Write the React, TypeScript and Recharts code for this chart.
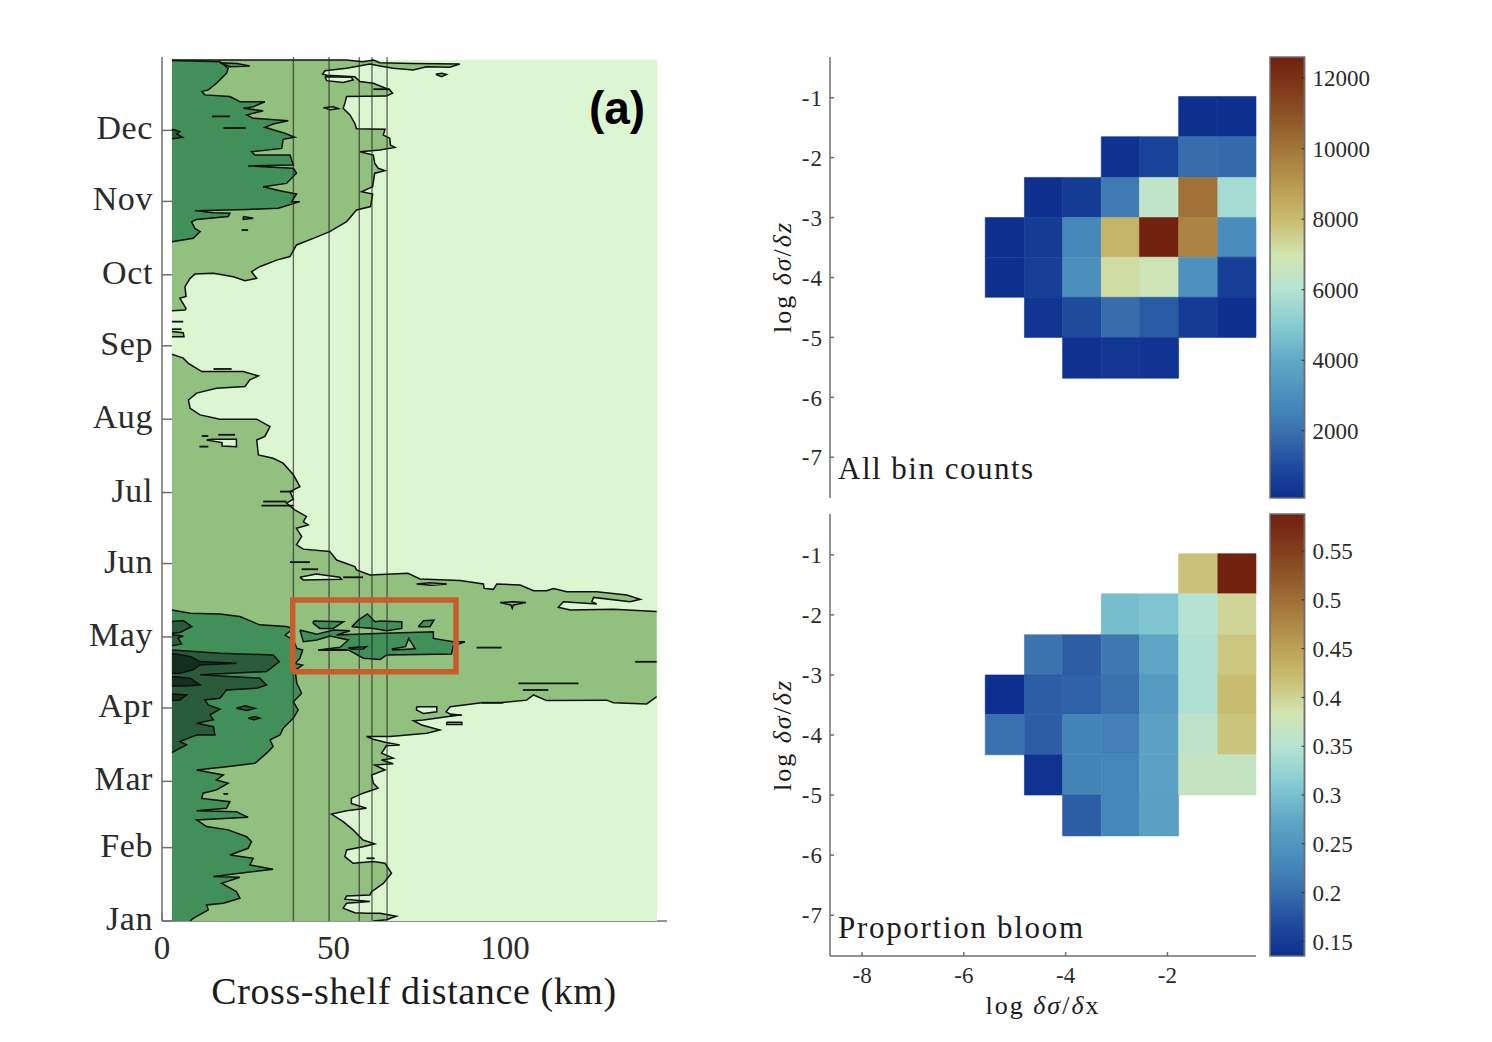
import { ScatterChart, Scatter, XAxis, YAxis, ReferenceArea } from 'recharts';

const SERIF = '"Liberation Serif", serif';
const AXIS_GREY = '#6f6f6f';
const TEXT = '#2b2b2b';

// ---- left panel: contours, x = km, y = day of year ----
const MONTHS = ['Jan', 'Feb', 'Mar', 'Apr', 'May', 'Jun', 'Jul', 'Aug', 'Sep', 'Oct', 'Nov', 'Dec'];
const MONTH_DAYS = [0, 31, 59, 90, 120, 151, 181, 212, 243, 273, 304, 334];
const KM_TICKS = [0, 50, 100];
const TRANSECTS = [38.3, 48.7, 57.5, 61.2, 65.6];
const BOX: number[][] = [[38.1, 105.3], [38.1, 135.6], [85.7, 135.6], [85.7, 105.3], [38.1, 105.3]];

const LIGHT = '#ddf6d2';
const MEDIUM = '#92c07e';
const DARK = '#41905a';
const DARKER = '#2a5b3a';
const DARKEST = '#14301c';

type Poly = number[][];

const BACKGROUND: Poly = [[2.9, 0], [2.9, 363.7], [144.3, 363.7], [144.3, 0]];

const MEDIUM_UPPER: Poly = [
  [2.9, 363.7], [41.2, 363.7], [53.8, 363.7], [58.6, 363], [61.6, 363.7], [63.5, 362.6], [73.2, 362.3], [86.8, 362],
  [83.9, 360.7], [77.1, 360.9], [73.2, 359.5], [67.4, 360.2], [63.5, 361.2], [60.6, 362], [53.8, 360.2], [47.5, 359.2],
  [46.8, 357.8], [48, 357.3], [56.2, 356.7], [57.7, 354.6], [61.6, 353.9], [66.4, 351.1], [67.2, 349.7], [65.4, 348.5],
  [53.8, 348.3], [53.3, 345.4], [52.8, 343.3], [54.8, 340.5], [56.2, 337], [56.7, 334.7], [65, 334.5], [64.5, 332],
  [66.4, 330.7], [66.6, 327.8], [67.9, 326.8], [63.5, 325.7], [57.7, 325], [61.6, 323.6], [62, 320.1], [63, 318],
  [65, 317], [62, 315.9], [61.4, 310.2], [58.2, 308.1], [61.4, 307.1], [60.8, 301.8], [56.7, 300.4], [53.8, 295.4],
  [48.9, 291.2], [44.1, 288.4], [39.2, 285.6], [37.3, 280.7], [33.4, 279.2], [28.5, 276.4], [26.1, 274.3], [27.6, 271.5],
  [24.2, 270.5], [20.8, 272.2], [15, 273.6], [9.6, 273.3], [8.2, 271.5], [6.7, 268], [7, 263.8], [5.2, 263.1],
  [7, 258.8], [6.7, 258.1], [2.9, 257.8],
];

const MEDIUM_LOWER: Poly = [
  [2.9, 239.4], [6.2, 237.8], [7.7, 235.6], [11.6, 232.1], [23.7, 232.1], [28.1, 230.3], [25.6, 228.6], [24.2, 225.8],
  [15.9, 225.1], [10.1, 223], [7.7, 220.1], [8.2, 216.6], [11.1, 213.8], [16.9, 212], [27.6, 212], [31.5, 208.9],
  [30, 204.7], [27.6, 203.2], [28.1, 196.9], [32.4, 195.5], [35.3, 193.4], [38.3, 188.5], [40.2, 183.5], [37.3, 181.4],
  [38.3, 178.2], [36.3, 176.5], [38.7, 173.7], [42.1, 170.9], [41.2, 168.7], [42.6, 167.3], [39.2, 165.9], [40.7, 162.4],
  [39.2, 158.9], [41.2, 157.1], [48.9, 156.1], [50.9, 152.5], [56.2, 149.7], [56.7, 148.3], [60.6, 146.2], [71.7, 146.9],
  [75.2, 144.5], [86.9, 143.8], [93.7, 142.4], [93.9, 140.5], [96.6, 140.1], [97.6, 142.4], [104.4, 141.9], [108.3, 139.5],
  [112.1, 139.5], [114.1, 140.5], [118, 139.1], [126.7, 139.1], [135.5, 137.7], [139.4, 135.9], [136.4, 134.9], [125.8, 136.7],
  [125.3, 134.9], [126.7, 133.9], [117, 134.9], [115.5, 132.5], [119, 131.4], [131.6, 131.7], [144.2, 130.7], [144.2, 94.8],
  [141.3, 91.7], [131.6, 92.2], [129.6, 93.3], [112.1, 93.1], [108.3, 95.5], [106.3, 93.3], [98.5, 92.2], [93.2, 92.2],
  [84, 90.5], [82.8, 88.4], [84, 87.4], [86.9, 87], [83, 86.3], [76.2, 84.9], [73.3, 84.6], [75.7, 82.8],
  [81, 80.7], [77.2, 79.3], [66.5, 77.9], [59.6, 77.9], [61.6, 76.8], [65.4, 75.4], [69.3, 74.4], [65.4, 74],
  [64, 70.9], [67.4, 68.8], [64, 68], [67.4, 66.4], [62, 65.9], [65, 63.8], [61.1, 61.7], [61.6, 58.2],
  [63, 56.1], [58.6, 54], [55.2, 51.8], [55.2, 49.7], [59.6, 47.6], [53.8, 46.6], [49.4, 45.2], [52.8, 42],
  [55.7, 38.5], [58.6, 34.2], [62, 32.6], [58.6, 31.4], [53.8, 30], [53.3, 27.2], [55.7, 24.4], [61.6, 25.1],
  [65, 24.4], [66.9, 20.2], [64.5, 15.9], [61.1, 12.4], [60.6, 11], [53.8, 10.6], [53.3, 9.2], [60.6, 8.2],
  [53.8, 7.5], [52.8, 5.4], [56.2, 3.5], [59.6, 3.3], [63.5, 3.3], [68.3, 2], [65.4, 0.5], [61.6, 0], [2.9, 0],
];

const DARK_UPPER: Poly = [
  [2.9, 363.5], [16.9, 363], [19.3, 360.2], [18.8, 358.1], [15.9, 353.9], [13.5, 351.1], [11.6, 350.4], [12.5, 349],
  [19.8, 348.3], [22.7, 346.1], [30, 346.1], [26.6, 344], [23.7, 343.3], [29.5, 342.3], [24.7, 340.5], [26.6, 339.1],
  [36.8, 338.1], [32.4, 336.7], [30, 335.3], [35.8, 332.8], [38.7, 331.1], [35.3, 330.2], [34.9, 326.4], [26.1, 325],
  [27.1, 323.6], [37.3, 323.6], [38.3, 319.4], [25.1, 319], [38.3, 318], [39.2, 315.9], [36.3, 311.6], [29.5, 310.2],
  [34.4, 308.5], [39.2, 307.1], [37.8, 303.9], [40.2, 303.9], [33.9, 301.1], [24.7, 300.6], [9.6, 300.1], [15, 299.2],
  [19.8, 299], [19.3, 297.6], [10.1, 296.4], [8.6, 295.4], [9.6, 292.6], [11.1, 291.2], [9.1, 288.4], [2.9, 287],
];

const DARK_LOWER: Poly = [
  [2.9, 131.4], [8.2, 130], [16.9, 129.7], [22.7, 128.6], [28.5, 125.1], [36.3, 124.4], [38.3, 123.5], [35.9, 120.8],
  [38.3, 118.7], [39.3, 115.2], [41, 114.5], [40.2, 111], [38.8, 108.8], [41, 108.1], [38.8, 106], [39.3, 100.4],
  [40.7, 96.2], [38.3, 92.6], [39.7, 89.1], [38.3, 85.7], [35.3, 81.4], [34.4, 78.6], [31.5, 76.5], [32.4, 73.7],
  [30.5, 70.9], [27.1, 66.6], [18.8, 65.2], [10.1, 63.8], [17.9, 61.7], [15.9, 59.6], [19.3, 58.2], [15.9, 55.4],
  [12, 54], [11.6, 51.8], [19.8, 50.4], [18.8, 47.6], [10.1, 46.6], [21.7, 46.2], [25.1, 43.8], [10.1, 42.7],
  [13, 39.9], [19.3, 38.5], [24.7, 35.6], [26.1, 33.5], [25.1, 30.7], [19.8, 27.9], [26.6, 26.5], [25.6, 23.7],
  [32.4, 21.9], [15, 18.8], [22.7, 18.5], [17.4, 15.9], [21.7, 12.4], [22.7, 9.6], [17.9, 7.5], [13, 6.8],
  [13.5, 4.7], [9.1, 1.1], [8.2, 0], [2.9, 0],
];

const DARKER_MAIN: Poly = [
  [2.9, 114.5], [16.9, 113.1], [32.4, 112.4], [34.2, 109.6], [30.5, 105.4], [11.1, 104], [28.5, 102.6], [30.5, 99.7],
  [27.6, 98.3], [18.8, 97.6], [16.9, 94.1], [12.5, 93.4], [13.5, 91.3], [16.9, 89.5], [14, 87.1], [15, 85],
  [10.1, 83.5], [15, 82.1], [15.4, 78.6], [10.1, 78.6], [5.2, 75.8], [7.2, 74.4], [4.3, 72.3], [2.9, 71.1],
];

const DARKER_BITS: Poly[] = [
  [[2.9, 126.5], [6.2, 126.9], [8.7, 124.4], [5.2, 121.9], [2.9, 121.6]],
  [[2.9, 120.9], [6.2, 120.4], [4.7, 119.5], [5.7, 117], [2.9, 116.3]],
  [[2.9, 334.5], [5.2, 333.5], [4.3, 332.5], [6, 331.1], [2.9, 330.5]],
  [[21.7, 89.9], [24.2, 90.9], [27.1, 89.9], [24.7, 88.9], [21.7, 89.9]],
  [[25.1, 85.7], [27.1, 86.4], [28.5, 85.7], [26.8, 85], [25.1, 85.7]],
];

const DARKEST_BITS: Poly[] = [
  [[2.9, 113.1], [8.2, 111.7], [11.1, 109.6], [21.7, 108.9], [11.1, 108.2], [9.1, 106.1], [5.2, 104.7], [2.9, 104.7]],
  [[2.9, 103.3], [8.2, 102.6], [11.1, 99.7], [7.2, 99.3], [2.9, 99.3]],
  [[2.9, 95.9], [7.2, 95.5], [5.2, 93.4], [2.9, 93.1]],
];

const DARK_BLOBS: Poly[] = [
  [[40.2, 122.9], [45.1, 121.2], [50, 122.9], [54.8, 122.6], [50.9, 120.8], [62.6, 121.5], [79.1, 122.2], [79.1, 119.4], [84.9, 118], [88.3, 118], [84.9, 116.2], [84.4, 112.8], [65.5, 112.4], [63.6, 110.5], [58.7, 111], [54.3, 114.5], [45.6, 114.5], [51.9, 115.6], [54.3, 118.7], [49, 120.4], [45.1, 118.7], [41.2, 118], [40.2, 122.9]],
  [[44.1, 126.7], [52.9, 126.4], [49.9, 123.6], [46, 123.6], [44.1, 125.7], [44.1, 126.7]],
  [[55.3, 124.3], [57.2, 127.1], [59.9, 129.7], [62.1, 126.4], [63.6, 126.7], [69.9, 126.4], [69.9, 123.6], [65.5, 122.6], [61.6, 123.6], [55.3, 124.3]],
  [[74.7, 124.3], [76.2, 126.9], [79.3, 127.1], [78.1, 124.3], [74.7, 124.3]],
  [[16.9, 362.6], [21.8, 362.3], [25.6, 361.2], [19.8, 360.9], [16.9, 362.6]],
  [[23.7, 297.6], [26.6, 296.9], [23.7, 296.4], [23.7, 297.6]],
];

const MEDIUM_BLOBS: Poly[] = [
  [[54.3, 115.4], [59.6, 115.9], [58.6, 114.9], [55.2, 114.9], [54.3, 115.4]],
  [[67, 114.9], [71, 115.9], [71.9, 119.4], [73.8, 115], [67.4, 114.5], [67, 114.9]],
  [[79.8, 357.7], [81.5, 358.1], [82.9, 357.6], [81.5, 356.7], [79.8, 357.7]],
  [[2.9, 249], [6.2, 248.5], [6.4, 246.8], [2.9, 246.8]],
  [[98.5, 134.5], [102.4, 134.9], [106.1, 134.5], [102.4, 133.5], [102.1, 132.1], [101.7, 133.5], [98.5, 134.5]],
  [[83, 84], [87.4, 84], [87.4, 83], [83, 83], [83, 84]],
];

const LIGHT_HOLES: Poly[] = [
  [[47.5, 356.7], [55.2, 356.4], [55.7, 355.3], [52.8, 354.2], [48, 355], [47.5, 356.7]],
  [[47, 343.6], [50, 344], [51.4, 343.2], [49, 342.7], [47, 343.6]],
  [[14.5, 203.5], [21.7, 203.5], [21.7, 200.4], [17.5, 200.7], [17.5, 202.1], [13, 203.2], [14.5, 203.5]],
  [[40.2, 145.2], [45, 146.6], [51.8, 145.2], [52.3, 144.4], [41.2, 144.1], [40.2, 145.2]],
  [[74.2, 142.4], [78.1, 142.9], [83, 142.4], [78.6, 141.8], [74.2, 142.4]],
  [[74.2, 90.5], [80.1, 90.5], [80.1, 88.4], [76.2, 87.7], [74.2, 89.1], [74.2, 90.5]],
];

// [km from, km to, day]
const STREAKS = [
  [14.6, 19.8, 339.9], [17.9, 24.4, 335], [61.6, 66.4, 351.4], [23.2, 25.1, 291.9], [2.9, 6.2, 253.2], [2.9, 5.7, 250],
  [15, 20.3, 233.2], [16.4, 21.3, 205.4], [11.6, 13.5, 204.9], [10.9, 13.5, 200.4], [34.4, 38.3, 181.4], [29.5, 36.3, 177.2],
  [29, 38.3, 175.5], [37.3, 43.1, 151.6], [40.7, 45.5, 148.6], [52.8, 58.6, 145.2], [17.9, 19.3, 53.7], [59.6, 62, 26.5],
  [91.7, 99, 115.5], [137.9, 144.2, 109.5], [103.9, 121.4, 100.4], [105.2, 112.6, 97.6], [93.2, 99.5, 92.2], [84, 87.4, 87],
  [45.5, 53.8, 114.5],
];

// ---- right panels ----
const X_EDGES = [-5.58, -4.81, -4.06, -3.3, -2.55, -1.78, -1.01, -0.26];
const Y_EDGES = [-0.98, -1.65, -2.33, -3, -3.66, -4.33, -5, -5.68];
const HEAT_X_TICKS = [-8, -6, -4, -2];
const HEAT_Y_TICKS = [-7, -6, -5, -4, -3, -2, -1];

const COUNTS = [
  [null, null, null, null, null, 150, 150],
  [null, null, null, 200, 700, 1900, 1800],
  [null, 150, 500, 2300, 6300, 10100, 5600],
  [150, 500, 2700, 8200, 12600, 9600, 2900],
  [150, 600, 3000, 7200, 6800, 3100, 600],
  [null, 300, 1000, 1900, 1400, 500, 150],
  [null, null, 200, 350, 250, null, null],
];
const COUNT_RANGE = [94, 12600];
const COUNT_TICKS = [2000, 4000, 6000, 8000, 10000, 12000];

const BLOOM = [
  [null, null, null, null, null, 0.416, 0.588],
  [null, null, null, 0.298, 0.305, 0.348, 0.398],
  [null, 0.207, 0.185, 0.212, 0.271, 0.344, 0.411],
  [0.135, 0.185, 0.19, 0.203, 0.257, 0.344, 0.42],
  [0.203, 0.185, 0.226, 0.221, 0.266, 0.357, 0.414],
  [null, 0.14, 0.226, 0.228, 0.266, 0.366, 0.366],
  [null, null, 0.187, 0.23, 0.264, null, null],
];
const BLOOM_RANGE = [0.135, 0.588];
const BLOOM_TICKS = [0.15, 0.2, 0.25, 0.3, 0.35, 0.4, 0.45, 0.5, 0.55];

const CMAP: [number, string][] = [
  [0, '#0d2f8f'], [0.08, '#214e9f'], [0.152, '#3a71ae'], [0.23, '#4a8fbd'], [0.312, '#60a8c6'], [0.39, '#86cbd2'],
  [0.472, '#b6e3d2'], [0.55, '#d2e5b0'], [0.632, '#c9bc6f'], [0.71, '#b89a4f'], [0.79, '#a4763a'], [0.87, '#8c5226'],
  [0.952, '#7a3116'], [1, '#722010'],
];

function hexToRgb(hex: string) {
  return [1, 3, 5].map((i) => parseInt(hex.slice(i, i + 2), 16));
}

function colorAt(t: number) {
  for (let i = 1; i < CMAP.length; i++) {
    if (t <= CMAP[i][0]) {
      const [t0, c0] = CMAP[i - 1];
      const [t1, c1] = CMAP[i];
      const f = (t - t0) / (t1 - t0);
      const a = hexToRgb(c0);
      const b = hexToRgb(c1);
      return `rgb(${a.map((v, k) => Math.round(v + (b[k] - v) * f)).join(',')})`;
    }
  }
  return CMAP[CMAP.length - 1][1];
}

const NoDot = () => null;
const CONTOUR_LINE = '#0c100c';

function toPoints(poly: Poly) {
  return poly.map(([x, y]) => ({ x, y }));
}

function strokeOnly(poly: Poly, key: string, line: object) {
  return <Scatter key={key} data={toPoints(poly)} shape={NoDot} isAnimationActive={false} line={{ fill: 'none', ...line }} />;
}

function contour(poly: Poly, fill: string, key: string, outlined = true) {
  return (
    <Scatter
      key={key}
      data={toPoints(poly)}
      shape={NoDot}
      isAnimationActive={false}
      line={{ fill, stroke: outlined ? CONTOUR_LINE : 'none', strokeWidth: 1.5 }}
    />
  );
}

const OUTLINE = { stroke: CONTOUR_LINE, strokeWidth: 1.5 };

// contours cut by the plot edge: filled whole, outlined only along the parts inside
function cutContour(poly: Poly, fill: string, key: string) {
  const edge = poly.findIndex((p) => p[0] === 144.2);
  const parts = edge < 0 ? [poly.slice(0, -1)] : [poly.slice(0, edge + 1), poly.slice(edge + 1, -1)];
  return [contour(poly, fill, key + '-fill', false), ...parts.map((p, i) => strokeOnly(p, `${key}-line${i}`, OUTLINE))];
}

const tickFont = (size: number) => ({ fontFamily: SERIF, fontSize: size, fill: TEXT });
const axisLine = { stroke: AXIS_GREY, strokeWidth: 1.5 };

function ContourPanel() {
  return (
    <div style={{ position: 'absolute', left: 0, top: 0 }}>
      <ScatterChart width={720} height={1042} margin={{ top: 57, right: 53, bottom: 21, left: 100 }}>
        {contour(BACKGROUND, LIGHT, 'bg', false)}
        {contour(MEDIUM_UPPER, MEDIUM, 'mu')}
        {cutContour(MEDIUM_LOWER, MEDIUM, 'ml')}
        {contour(DARK_UPPER, DARK, 'du')}
        {cutContour(DARK_LOWER, DARK, 'dl')}
        {DARK_BLOBS.map((p, i) => contour(p, DARK, 'db' + i))}
        {MEDIUM_BLOBS.map((p, i) => contour(p, MEDIUM, 'mb' + i))}
        {LIGHT_HOLES.map((p, i) => contour(p, LIGHT, 'lh' + i))}
        {contour(DARKER_MAIN, DARKER, 'dm')}
        {DARKER_BITS.map((p, i) => contour(p, DARKER, 'dkb' + i))}
        {DARKEST_BITS.map((p, i) => contour(p, DARKEST, 'dst' + i))}
        {STREAKS.map(([a, b, d], i) => strokeOnly([[a, d], [b, d]], 's' + i, { stroke: CONTOUR_LINE, strokeWidth: 1.8 }))}
        {TRANSECTS.map((km) => strokeOnly([[km, 0], [km, 365]], 't' + km, { stroke: '#222', strokeOpacity: 0.65, strokeWidth: 1.4 }))}
        {strokeOnly(BOX, 'box', { stroke: '#c95c2c', strokeWidth: 5.5 })}

        <XAxis
          type="number"
          dataKey="x"
          domain={[0, 147.2]}
          allowDataOverflow
          ticks={KM_TICKS}
          height={100}
          tick={tickFont(33)}
          tickSize={-8}
          tickMargin={23}
          interval={0}
          axisLine={axisLine}
          tickLine={axisLine}
        />
        <YAxis
          type="number"
          dataKey="y"
          domain={[0, 365]}
          allowDataOverflow
          ticks={MONTH_DAYS}
          width={62}
          interval={0}
          tick={{ ...tickFont(34), dy: -3, letterSpacing: 0.6 }}
          tickFormatter={(d: number) => MONTHS[MONTH_DAYS.indexOf(d)]}
          tickSize={-10}
          tickMargin={19}
          axisLine={axisLine}
          tickLine={axisLine}
        />
        <XAxis xAxisId="top" orientation="top" type="number" domain={[0, 147.2]} allowDataOverflow ticks={KM_TICKS} height={0} tick={false} tickSize={-8} axisLine={axisLine} tickLine={axisLine} />
        <YAxis yAxisId="right" orientation="right" type="number" domain={[0, 365]} allowDataOverflow ticks={MONTH_DAYS} width={0} tick={false} tickSize={-10} axisLine={axisLine} tickLine={axisLine} />
      </ScatterChart>
    </div>
  );
}

function HeatPanel({ rows, range, top, height, marginTop, marginBottom, axisHeight, showXLabels }: any) {
  return (
    <div style={{ position: 'absolute', left: 760, top }}>
      <ScatterChart width={526} height={height} margin={{ top: marginTop, right: 30, bottom: marginBottom, left: 20 }}>
        <XAxis
          type="number"
          dataKey="x"
          domain={[-8.63, -0.26]}
          allowDataOverflow
          ticks={HEAT_X_TICKS}
          height={axisHeight}
          tick={showXLabels ? tickFont(23) : false}
          tickSize={-4}
          tickMargin={15}
          interval={0}
          axisLine={axisLine}
          tickLine={axisLine}
        />
        <YAxis
          type="number"
          dataKey="y"
          domain={[-7.68, -0.32]}
          allowDataOverflow
          ticks={HEAT_Y_TICKS}
          width={50}
          interval={0}
          tick={{ ...tickFont(23), letterSpacing: 1 }}
          tickSize={-4}
          tickMargin={11}
          axisLine={axisLine}
          tickLine={axisLine}
        />
        <XAxis xAxisId="top" orientation="top" type="number" domain={[-8.63, -0.26]} allowDataOverflow ticks={HEAT_X_TICKS} height={0} tick={false} tickSize={-4} axisLine={axisLine} tickLine={axisLine} />
        <YAxis yAxisId="right" orientation="right" type="number" domain={[-7.68, -0.32]} allowDataOverflow ticks={HEAT_Y_TICKS} width={0} tick={false} tickSize={-4} axisLine={axisLine} tickLine={axisLine} />
        {rows.map((row: (number | null)[], r: number) =>
          row.map((v, c) => {
            if (v === null) return null;
            const color = colorAt((v - range[0]) / (range[1] - range[0]));
            return (
              <ReferenceArea
                key={`${r}-${c}`}
                x1={X_EDGES[c]}
                x2={X_EDGES[c + 1]}
                y1={Y_EDGES[r + 1]}
                y2={Y_EDGES[r]}
                fill={color}
                fillOpacity={1}
                stroke={color}
                strokeWidth={0.6}
              />
            );
          }),
        )}
      </ScatterChart>
    </div>
  );
}

function ColorBar({ id, range, ticks, top, height, marginTop, marginBottom }: any) {
  return (
    <div style={{ position: 'absolute', left: 1262, top }}>
      <ScatterChart width={130} height={height} margin={{ top: marginTop, right: 17, bottom: marginBottom, left: 8 }}>
        <defs>
          <linearGradient id={id} x1="0" y1="1" x2="0" y2="0">
            {CMAP.map(([t, c]) => (
              <stop key={t} offset={t} stopColor={c} />
            ))}
          </linearGradient>
        </defs>
        <XAxis type="number" dataKey="x" domain={[0, 1]} allowDataOverflow height={0} tick={false} tickLine={false} axisLine={false} />
        <YAxis
          orientation="right"
          type="number"
          dataKey="y"
          domain={range}
          allowDataOverflow
          ticks={ticks}
          width={70.5}
          interval={0}
          tick={{ ...tickFont(23), textAnchor: 'start' }}
          tickSize={-3}
          tickMargin={11}
          axisLine={axisLine}
          tickLine={{ stroke: '#333', strokeWidth: 1 }}
        />
        <ReferenceArea x1={0} x2={1} y1={range[0]} y2={range[1]} fill={`url(#${id})`} fillOpacity={1} stroke={AXIS_GREY} strokeWidth={1.5} strokeOpacity={1} />
      </ScatterChart>
    </div>
  );
}

function Note({ left, top, size, children, style }: any) {
  return (
    <div style={{ position: 'absolute', left, top, fontFamily: SERIF, fontSize: size, lineHeight: 1, color: '#1c1c1c', whiteSpace: 'nowrap', ...style }}>
      {children}
    </div>
  );
}

const centered = { transform: 'translate(-50%, -50%)' };
const rotated = { transform: 'translate(-50%, -50%) rotate(-90deg)', letterSpacing: 2 };
const LOG_Z = (
  <>
    log <i>δσ</i>/<i>δz</i>
  </>
);

export default function App() {
  return (
    <div style={{ position: 'absolute', left: 0, top: 0, width: 1492, height: 1042, background: '#fff', overflow: 'hidden' }}>
      <ContourPanel />
      <HeatPanel rows={COUNTS} range={COUNT_RANGE} top={0} height={520} marginTop={57} marginBottom={22} axisHeight={0} showXLabels={false} />
      <HeatPanel rows={BLOOM} range={BLOOM_RANGE} top={505} height={537} marginTop={9} marginBottom={6} axisHeight={80} showXLabels />
      <ColorBar id="cbCounts" range={COUNT_RANGE} ticks={COUNT_TICKS} top={0} height={520} marginTop={57} marginBottom={22} />
      <ColorBar id="cbBloom" range={BLOOM_RANGE} ticks={BLOOM_TICKS} top={505} height={537} marginTop={9} marginBottom={86} />

      <Note left={617} top={108} size={46} style={{ ...centered, fontFamily: '"Liberation Sans", sans-serif', fontWeight: 700, color: '#000' }}>(a)</Note>
      <Note left={414} top={991} size={38} style={{ ...centered, letterSpacing: 0.6 }}>Cross-shelf distance (km)</Note>
      <Note left={783} top={277} size={26} style={rotated}>{LOG_Z}</Note>
      <Note left={783} top={735} size={26} style={rotated}>{LOG_Z}</Note>
      <Note left={1043} top={1006} size={26} style={{ ...centered, letterSpacing: 2 }}>log <i>δσ</i>/<i>δ</i>x</Note>
      <Note left={838} top={453} size={31} style={{ letterSpacing: 1.5 }}>All bin counts</Note>
      <Note left={838} top={912} size={31} style={{ letterSpacing: 1.7 }}>Proportion bloom</Note>
    </div>
  );
}
